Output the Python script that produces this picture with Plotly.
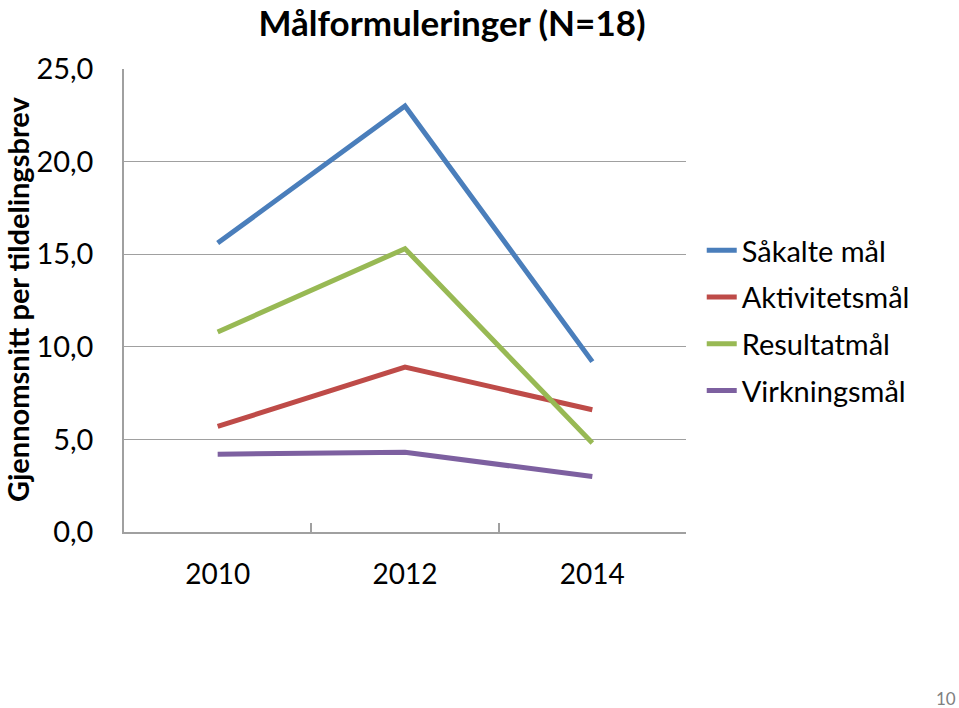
import plotly.graph_objects as go

years = ["2010", "2012", "2014"]
series_names = ["Såkalte mål", "Aktivitetsmål", "Resultatmål", "Virkningsmål"]
sakalte = [15.6, 23.0, 9.2]
aktivitet = [5.7, 8.9, 6.6]
resultat = [10.8, 15.3, 4.8]
virkning = [4.2, 4.3, 3.0]
colors = ["#4A7EBB", "#BE4B48", "#98B954", "#7D60A0"]

FONT = "Lato, Carlito, Calibri, sans-serif"

fig = go.Figure()
for i, (name, vals) in enumerate(zip(series_names, [sakalte, aktivitet, resultat, virkning])):
    fig.add_trace(go.Scatter(
        x=years, y=vals, name=name, mode="lines",
        line=dict(color=colors[i], width=5),
        legendgroup=f"g{i}",
    ))

fig.update_layout(
    width=959, height=708,
    margin=dict(l=124, r=273, t=69, b=176),
    paper_bgcolor="white", plot_bgcolor="white",
    separators=", ",
    font=dict(family=FONT, color="#000000", size=29),
    title=dict(text="<b>Målformuleringer (N=18)</b>", x=452/959, xanchor="center",
               y=1-24/708, yanchor="middle", font=dict(size=35, family=FONT)),
    showlegend=True,
    legend=dict(x=1.028, xref="paper", y=(532-225)/463, yanchor="top", xanchor="left",
                font=dict(size=29, family=FONT), tracegroupgap=6,
                itemwidth=30, bgcolor="rgba(0,0,0,0)"),
)

fig.update_xaxes(
    type="category", range=[-0.5, 2.5], showgrid=False, showline=True,
    linecolor="#A0A0A0", linewidth=1.5,
    ticks="inside", tickson="boundaries", ticklen=9, tickcolor="#A0A0A0", tickwidth=1.5,
    ticklabelstandoff=17, tickfont=dict(size=28, family=FONT), zeroline=False,
)
fig.update_yaxes(
    range=[0, 25], dtick=5, tickformat=".1f", showgrid=True, gridcolor="#A0A0A0", gridwidth=1.2,
    showline=True, linecolor="#A0A0A0", linewidth=1.5, ticks="", zeroline=False,
    ticklabelstandoff=23, tickfont=dict(size=29, family=FONT),
)

fig.add_annotation(
    text="<b>Gjennomsnitt per tildelingsbrev</b>", textangle=-90,
    xref="paper", yref="paper", x=0, xshift=-107, y=(532-300)/463,
    xanchor="center", yanchor="middle", showarrow=False,
    font=dict(size=29, family=FONT, color="#000000"),
)
fig.add_annotation(
    text="10", xref="paper", yref="paper", x=(946-124)/562, y=(532-698)/463,
    xanchor="center", yanchor="middle", showarrow=False,
    font=dict(size=17, family=FONT, color="#808080"),
)

fig.write_html("out.html")
